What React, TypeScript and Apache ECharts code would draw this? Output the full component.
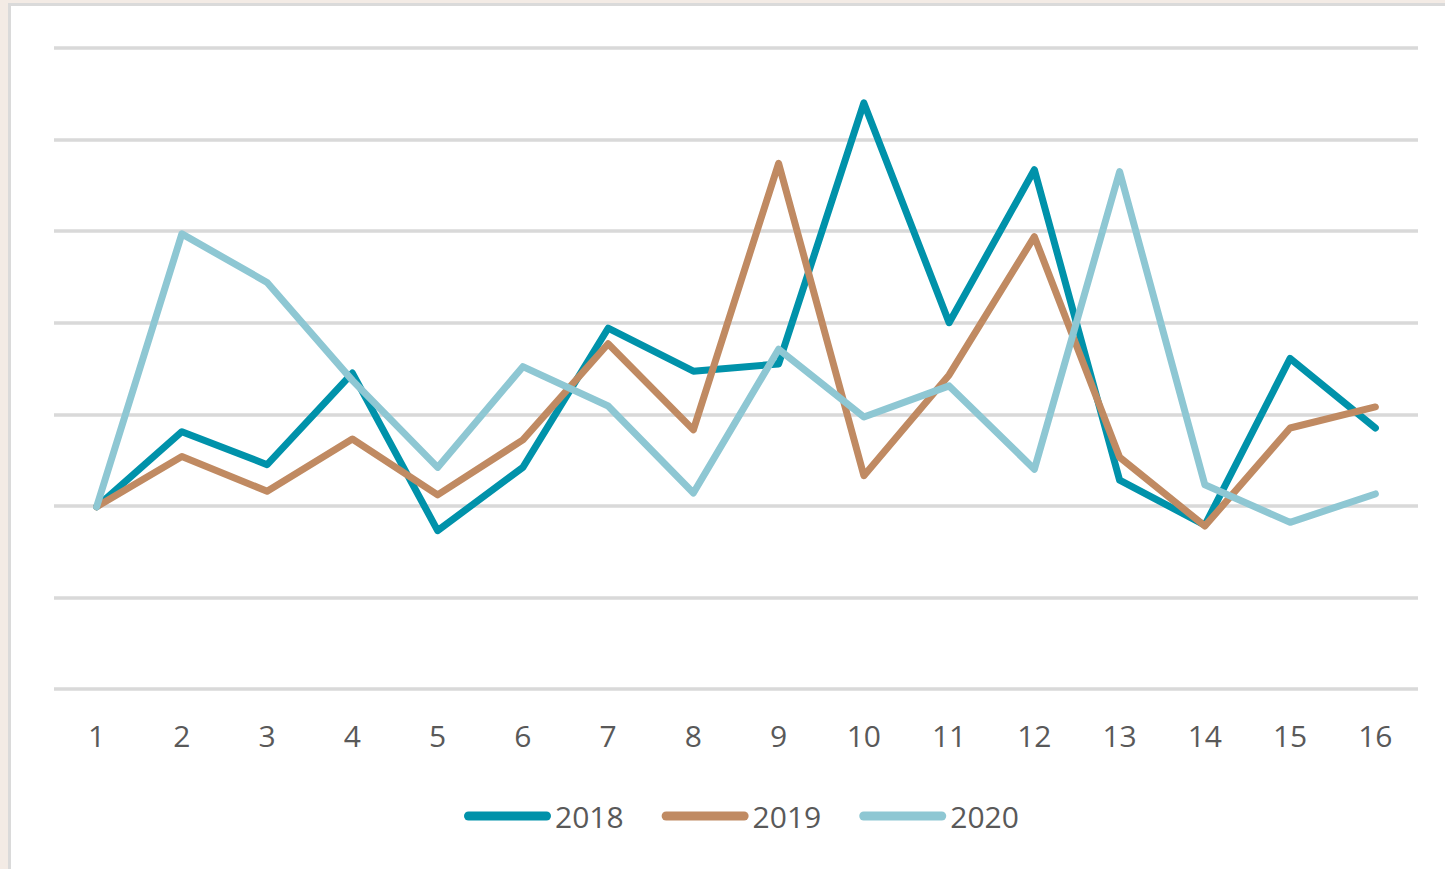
import React, { useEffect, useRef } from "react";
import * as echarts from "echarts";

const categories = ["1", "2", "3", "4", "5", "6", "7", "8", "9", "10", "11", "12", "13", "14", "15", "16"];
const seriesNames = ["2018", "2019", "2020"];
const values2018 = [1.99, 2.81, 2.45, 3.45, 1.73, 2.42, 3.94, 3.47, 3.55, 6.4, 4.0, 5.67, 2.28, 1.79, 3.61, 2.85];
const values2019 = [1.99, 2.54, 2.16, 2.73, 2.12, 2.72, 3.77, 2.83, 5.74, 2.33, 3.43, 4.94, 2.53, 1.78, 2.85, 3.08];
const values2020 = [1.99, 4.97, 4.44, 3.37, 2.42, 3.52, 3.09, 2.14, 3.71, 2.97, 3.31, 2.4, 5.65, 2.23, 1.82, 2.13];
const colors = ["#0092AA", "#C08A62", "#8EC7D3"];

export default function App() {
  const ref = useRef<HTMLDivElement>(null);
  useEffect(() => {
    if (!ref.current) return;
    const chart = echarts.init(ref.current, null, { renderer: "svg" });
    const data = [values2018, values2019, values2020];
    chart.setOption({
      animation: false,
      backgroundColor: "#F3EBE5",
      graphic: [
        {
          type: "rect",
          z: -10,
          silent: true,
          shape: { x: 9.5, y: 4.5, width: 1600, height: 1000 },
          style: { fill: "#ffffff", stroke: "#DADADA", lineWidth: 3 },
        },
      ],
      grid: { left: 54, right: 27, top: 48, bottom: 180, containLabel: false },
      xAxis: {
        type: "category",
        data: categories,
        boundaryGap: true,
        axisLine: { show: false },
        axisTick: { show: false },
        axisLabel: {
          color: "#595959",
          fontSize: 30,
          fontFamily: "Open Sans",
          margin: 31,
        },
      },
      yAxis: {
        type: "value",
        min: 0,
        max: 7,
        interval: 1,
        axisLabel: { show: false },
        axisLine: { show: false },
        axisTick: { show: false },
        splitLine: { lineStyle: { color: "#D9D9D9", width: 3.5 } },
      },
      legend: {
        data: seriesNames,
        left: 459,
        top: 796,
        itemWidth: 87,
        itemHeight: 9,
        itemGap: 38,
        icon: "path://M4.5,0 H82.5 A4.5,4.5 0 0 1 82.5,9 H4.5 A4.5,4.5 0 0 1 4.5,0 Z",
        textStyle: { color: "#595959", fontSize: 30, fontFamily: "Open Sans", padding: [0, 0, 0, -1] },
      },
      series: seriesNames.map((name, i) => ({
        name,
        type: "line",
        data: data[i],
        symbol: "none",
        color: colors[i],
        lineStyle: { color: colors[i], width: 7, cap: "round", join: "round" },
      })),
    });
    return () => chart.dispose();
  }, []);
  return (
    <div
      ref={ref}
      style={{ position: "fixed", left: 0, top: 0, width: 1445, height: 869 }}
    />
  );
}
